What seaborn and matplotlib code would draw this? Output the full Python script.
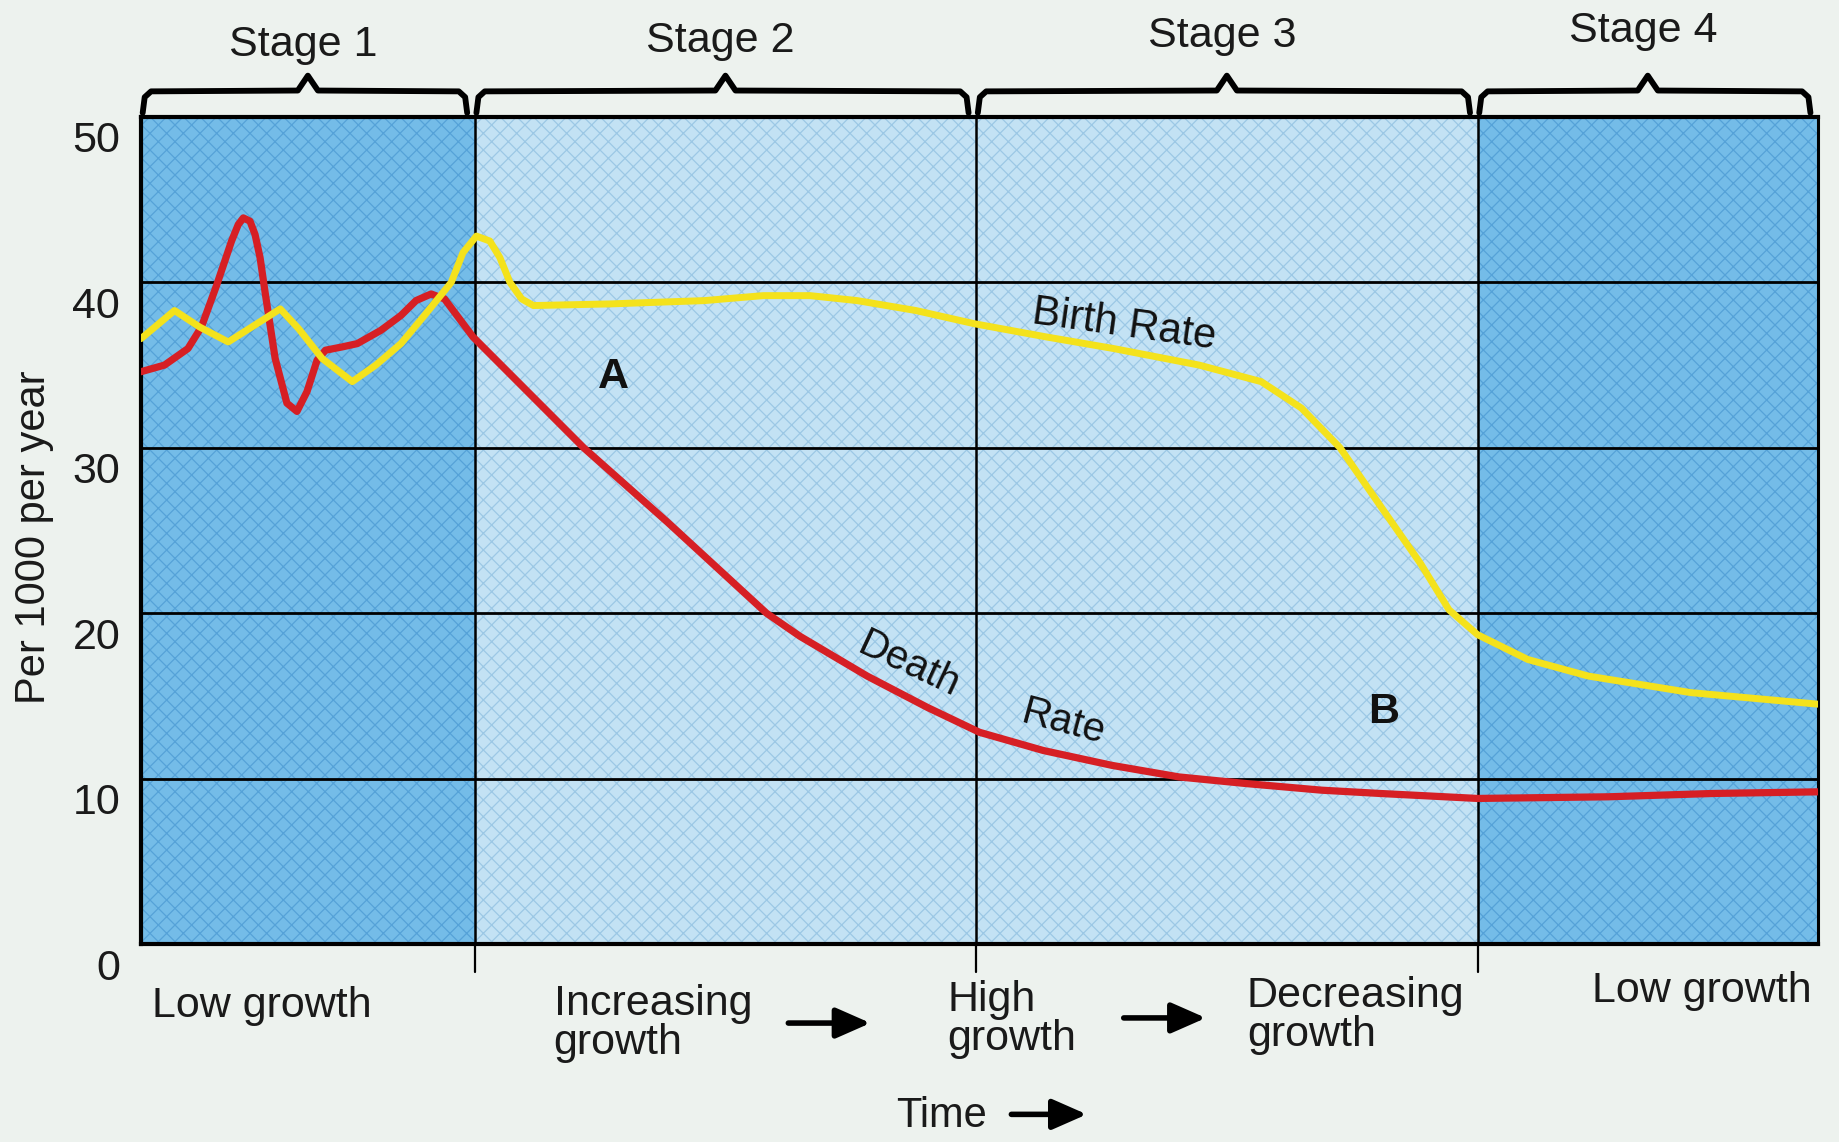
import matplotlib
matplotlib.use("Agg")
import matplotlib.pyplot as plt
import matplotlib.transforms as mtransforms
import seaborn as sns

# ---------------- data ----------------
stage_names = ["Stage 1", "Stage 2", "Stage 3", "Stage 4"]
stage_edges = [0, 19.9, 49.8, 79.7, 100]
growth_labels = ["Low growth", "Increasing\ngrowth", "High\ngrowth",
                 "Decreasing\ngrowth", "Low growth"]
y_ticks = [0, 10, 20, 30, 40, 50]

death_time = [0.0, 1.4, 2.8, 3.6, 4.5, 5.0, 5.4, 5.8, 6.1, 6.5, 6.8, 7.1, 7.4,
              8.0, 8.7, 9.3, 9.9, 10.5, 11.0, 12.0, 12.9, 14.3, 15.5, 16.4,
              17.3, 18.1, 19.8, 26.4, 31.4, 37.3, 39.3, 43.3, 46.9, 50.0,
              53.8, 57.9, 61.9, 65.9, 70.4, 73.9, 79.7, 87.5, 93.7, 100.0]
death_rate = [34.6, 35.0, 36.0, 37.3, 39.8, 41.3, 42.5, 43.5, 43.9, 43.7, 42.9,
              41.5, 39.4, 35.4, 32.7, 32.2, 33.4, 35.3, 35.9, 36.1, 36.3, 37.1,
              38.0, 38.9, 39.3, 39.0, 36.7, 30.0, 25.5, 20.0, 18.6, 16.2, 14.3,
              12.8, 11.7, 10.8, 10.1, 9.7, 9.3, 9.1, 8.8, 8.9, 9.1, 9.2]

birth_time = [0.0, 2.0, 3.5, 5.2, 6.6, 8.3, 9.4, 10.8, 12.6, 14.0, 15.5, 16.9,
              18.5, 19.2, 20.0, 20.8, 21.4, 22.0, 22.7, 23.4, 28.0, 33.6, 37.1,
              39.9, 42.7, 46.2, 49.7, 54.0, 58.0, 63.1, 66.8, 69.2, 71.5, 74.1,
              76.3, 78.0, 79.7, 82.7, 86.3, 92.4, 100.0]
birth_rate = [36.6, 38.3, 37.3, 36.4, 37.3, 38.4, 37.2, 35.4, 34.0, 35.0, 36.3,
              38.0, 40.0, 41.8, 42.8, 42.5, 41.5, 40.0, 39.0, 38.6, 38.7, 38.9,
              39.2, 39.2, 38.9, 38.3, 37.5, 36.7, 36.0, 35.0, 34.0, 32.4, 30.0,
              26.2, 23.0, 20.2, 18.7, 17.2, 16.2, 15.2, 14.5]

# ---------------- style ----------------
sns.set_theme(style="white")
plt.rcParams['font.family'] = ['Liberation Sans', 'DejaVu Sans']
plt.rcParams['hatch.linewidth'] = 0.9

W, H = 1839, 1142
fig = plt.figure(figsize=(W / 100, H / 100), dpi=100, facecolor='#edf2ee')
ax = fig.add_axes([141 / W, 1 - 944 / H, 1677 / W, 827 / H])
ax.set_xlim(0, 100)
ax.set_ylim(0, 50)

dark, light = '#74bce8', '#c3e2f4'
stage_fill = [dark, light, light, dark]
hatch_col = ['#55a2d8', '#9cc8e5', '#9cc8e5', '#55a2d8']
for i in range(4):
    ax.axvspan(stage_edges[i], stage_edges[i + 1], facecolor=stage_fill[i],
               edgecolor=hatch_col[i], hatch='xx', linewidth=0, zorder=0)

for yv in y_ticks[1:-1]:
    ax.axhline(yv, color='black', lw=2, zorder=1)
for xv in stage_edges[1:-1]:
    ax.axvline(xv, color='black', lw=1.8, zorder=1)
    ax.plot([xv, xv], [0, -1.7], color='black', lw=1.6, clip_on=False)

for s in ax.spines.values():
    s.set_visible(True)
    s.set_color('black')
    s.set_linewidth(2.2)
ax.spines['left'].set_linewidth(3)
ax.spines['bottom'].set_linewidth(3)
ax.spines['top'].set_linewidth(3)

# lines
sns.lineplot(x=death_time, y=death_rate, ax=ax, color='#d61f24', linewidth=5.2,
             zorder=3, solid_joinstyle='round', solid_capstyle='round')
sns.lineplot(x=birth_time, y=birth_rate, ax=ax, color='#f4e21c', linewidth=5.0,
             zorder=4, solid_joinstyle='round', solid_capstyle='round')

# axes ticks
ax.set_xticks([])
ax.set_yticks(y_ticks)
ax.set_yticklabels([str(v) for v in y_ticks])
ax.tick_params(axis='y', length=0, pad=15, labelsize=31, labelcolor='#1a1a1a')
offset = mtransforms.ScaledTranslation(0, -0.2, fig.dpi_scale_trans)
for lab in ax.get_yticklabels():
    lab.set_transform(lab.get_transform() + offset)
ax.set_xlabel('')
ax.set_ylabel('Per 1000 per year', fontsize=30, color='#1a1a1a')
ax.yaxis.set_label_coords(-0.052, 0.492)

# curve labels
ax.text(58.6, 37.4, 'Birth Rate', rotation=-8, fontsize=30, ha='center',
        va='center', color='#111111', zorder=5)
ax.text(45.8, 16.9, 'Death', rotation=-25, fontsize=29, ha='center',
        va='center', color='#111111', zorder=5)
ax.text(55.0, 13.4, 'Rate', rotation=-15, fontsize=29, ha='center',
        va='center', color='#111111', zorder=5)
ax.text(28.2, 34.3, 'A', fontsize=31, fontweight='bold', ha='center',
        va='center', color='#111111', zorder=5)
ax.text(74.1, 14.0, 'B', fontsize=31, fontweight='bold', ha='center',
        va='center', color='#111111', zorder=5)

# stage titles and brackets
title_y = [53.7, 53.95, 54.25, 54.55]
for i in range(4):
    xa, xb = stage_edges[i], stage_edges[i + 1]
    xc = (xa + xb) / 2
    ax.text(xc - 0.3, title_y[i], stage_names[i], fontsize=31, ha='center',
            va='baseline', color='#1a1a1a', clip_on=False)
    x0, x1 = xa + 0.1, xb - 0.45
    bx = [x0, x0 + 0.12, x0 + 0.5, xc - 0.6, xc, xc + 0.6, x1 - 0.5, x1 - 0.12, x1]
    by = [50.25, 51.2, 51.55, 51.6, 52.5, 51.6, 51.55, 51.2, 50.25]
    ax.plot(bx, by, color='black', lw=4.2, clip_on=False,
            solid_joinstyle='round', solid_capstyle='round')

# growth labels beneath the axis
label_x = [0.66, 24.6, 48.1, 65.95, 86.5]
label_y = [-3.75, -4.8, -4.56, -4.32, -2.84]
for txt, lx, ly in zip(growth_labels, label_x, label_y):
    ax.text(lx, ly, txt, fontsize=31, ha='left', va='center', linespacing=0.95,
            color='#1a1a1a', clip_on=False)

arrow_style = dict(arrowstyle='-|>,head_length=0.75,head_width=0.33', lw=4,
                   color='black', mutation_scale=28, shrinkA=0, shrinkB=0)
for xa, xb, ya in [(38.6, 43.5, -4.78), (58.6, 63.5, -4.47), (51.9, 56.4, -10.3)]:
    ax.annotate('', xy=(xb, ya), xytext=(xa, ya), xycoords='data',
                annotation_clip=False, arrowprops=arrow_style)
ax.text(45.0, -10.4, 'Time', fontsize=30, ha='left', va='center',
        color='#1a1a1a', clip_on=False)

fig.savefig('out.png', dpi=100, facecolor=fig.get_facecolor())
